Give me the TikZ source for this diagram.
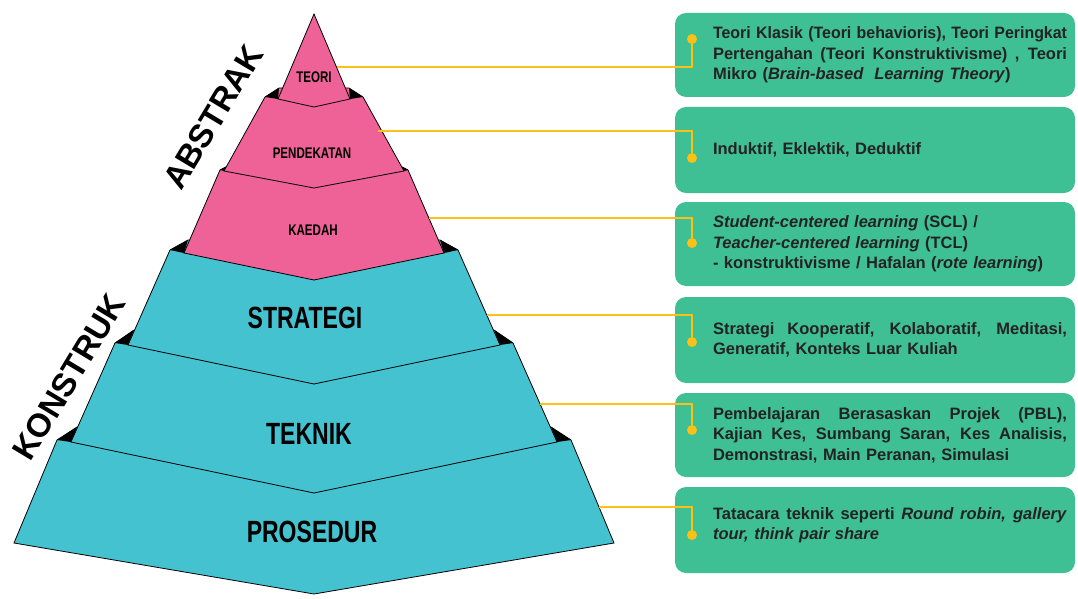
\documentclass[tikz,border=0pt]{standalone}
\usepackage{fontspec}
\usepackage{graphicx}
\usetikzlibrary{positioning}
\setmainfont{Liberation Sans}
\newfontfamily\narrowfont[FakeStretch=0.75]{Liberation Sans}

\definecolor{pyrPink}{RGB}{239,98,151}
\definecolor{pyrCyan}{RGB}{69,194,208}
\definecolor{boxGreen}{RGB}{62,191,148}
\definecolor{linkYellow}{RGB}{253,192,20}
\definecolor{textDark}{RGB}{35,35,35}

\newcommand{\jline}[1]{\makebox[354pt][s]{\spaceskip=0pt\xspaceskip=0pt #1}}
\newcommand{\squeeze}[1]{\resizebox{354pt}{\height}{#1}}

\tikzset{
  tierline/.style={draw=black, line width=0.8pt, line join=miter},
  smalltier/.style={font=\narrowfont\bfseries\fontsize{15.4}{16}\selectfont, inner sep=0pt},
  bigtier/.style={font=\narrowfont\bfseries\fontsize{30.7}{32}\selectfont, inner sep=0pt},
  sidelabel/.style={font=\bfseries\fontsize{33}{34}\selectfont, rotate=59, inner sep=0pt},
  infobox/.style={fill=boxGreen, rounded corners=11pt, minimum width=400pt, inner sep=0pt},
  infotext/.style={text width=354pt, align=left, inner sep=0pt, text=textDark,
    font=\bfseries\fontsize{16.5}{20.5}\selectfont},
  dot/.style={circle, fill=linkYellow, minimum size=10pt, inner sep=0pt},
  link/.style={draw=linkYellow, line width=1.6pt}
}

\begin{document}
\begin{tikzpicture}[x=1pt, y=-1pt]
    \useasboundingbox (0,0) rectangle (1078,599);

    \foreach \col/\ow/\oy/\sw/\sy/\bw/\by/\my/\uw/\uy in {
        pyrCyan/257/440/237/427/300/543/594/243/442,
        pyrCyan/199/343/180/330/243/442/493/186/345,
        pyrCyan/144/250/126/240/186/345/384/130/253,
        pyrPink/94/170/77/161/130/253/280/90/171,
        pyrPink/49/97/35/88/90/171/188/36/99,
        pyrPink/0/14/0/14/36/99/107/0/14}
    {
        \draw[tierline, fill=\col] ({314-\ow},\oy) -- ({314-\sw},\sy) -- ({314+\sw},\sy)
            -- ({314+\ow},\oy) -- ({314+\bw},\by) -- (314,\my) -- ({314-\bw},\by) -- cycle;
        \fill[black] ({314-\ow},\oy) -- ({314-\sw},\sy) -- ({314-\uw},\uy) -- cycle;
        \fill[black] ({314+\ow},\oy) -- ({314+\sw},\sy) -- ({314+\uw},\uy) -- cycle;
    }

    \node[smalltier] (teori) at (314,77) {TEORI};
    \node[smalltier] (pendekatan) at (312,153) {PENDEKATAN};
    \node[smalltier] (kaedah) at (313,230) {KAEDAH};
    \node[bigtier] (strategi) at (305,318) {STRATEGI};
    \node[bigtier] (teknik) at (309,434) {TEKNIK};
    \node[bigtier] (prosedur) at (312,532) {PROSEDUR};

    \node[sidelabel] (abstrak) at (213,117) {ABSTRAK};
    \node[sidelabel] (konstruk) at (69,377) {KONSTRUK};

    \node[infobox, minimum height=84pt] (b1) at (875,55) {};
    \node[infobox, minimum height=86pt] (b2) at (875,150) {};
    \node[infobox, minimum height=84pt] (b3) at (875,244) {};
    \node[infobox, minimum height=86pt] (b4) at (875,340) {};
    \node[infobox, minimum height=84pt] (b5) at (875,435) {};
    \node[infobox, minimum height=86pt] (b6) at (875,530) {};

    \node[infotext, right=38pt of b1.west] (t1) {\squeeze{Teori Klasik (Teori behavioris), Teori Peringkat}\\
        \jline{Pertengahan (Teori Konstruktivisme) , Teori}\\
        Mikro (\textit{Brain-based\ \ Learning Theory})};
    \node[infotext, right=38pt of b2.west] (t2) {Induktif, Eklektik, Deduktif};
    \node[infotext, right=38pt of b3.west] (t3) {\textit{Student-centered learning} (SCL) /\\
        \textit{Teacher-centered learning} (TCL)\\
        - konstruktivisme / Hafalan (\textit{rote learning})};
    \node[infotext, right=38pt of b4.west] (t4) {\jline{Strategi Kooperatif, Kolaboratif, Meditasi,}\\
        Generatif, Konteks Luar Kuliah};
    \node[infotext, right=38pt of b5.west] (t5) {\jline{Pembelajaran Berasaskan Projek (PBL),}\\
        \jline{Kajian Kes, Sumbang Saran, Kes Analisis,}\\
        Demonstrasi, Main Peranan, Simulasi};
    \node[infotext, right=38pt of b6.west, yshift=5pt] (t6) {\jline{Tatacara teknik seperti \textit{Round robin, gallery}}\\
        \textit{tour, think pair share}};

    \node[dot] (d1) at (692,39) {};
    \node[dot] (d2) at (692,158) {};
    \node[dot] (d3) at (692,243) {};
    \node[dot] (d4) at (692,342) {};
    \node[dot] (d5) at (692,430) {};
    \node[dot] (d6) at (692,535) {};

    \coordinate (e1) at (337,67);
    \coordinate (e2) at (378,131);
    \coordinate (e3) at (429,218);
    \coordinate (e4) at (487,315);
    \coordinate (e5) at (540,404);
    \coordinate (e6) at (599,507);

    \foreach \i in {1,...,6}
        \draw[link] (e\i) -| (d\i);
\end{tikzpicture}
\end{document}
